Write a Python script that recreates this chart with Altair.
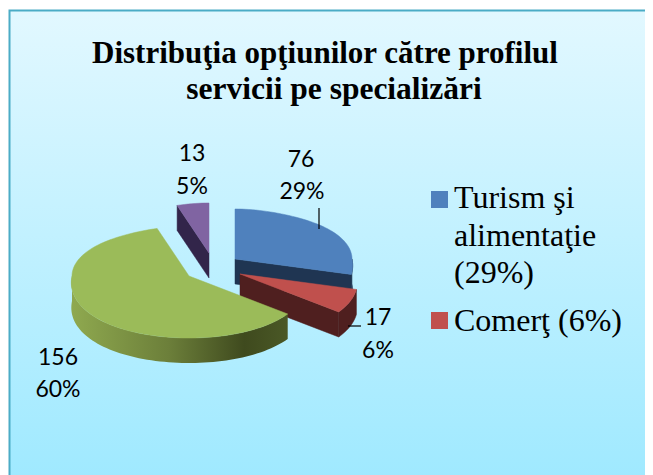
import math
import numpy as np
import altair as alt

# ---- data
series_names = ["Turism şi alimentaţie", "Comerţ", "Servicii", "Alte"]
series_values = [76, 17, 156, 13]
value_pct = ["29%", "6%", "60%", "5%"]
title_lines = ["Distribuţia opţiunilor către profilul", "servicii pe specializări"]
legend_lines = ["Turism şi", "alimentaţie", "(29%)", "Comerţ (6%)"]

W, H = 637, 467
OX, OY = 8, 8  # page margin
RX, RY_TOP, RY_BOT, DEPTH = 117, 50, 62, 25

# explosion centre (page px) of each slice and colours
centres = [(235, 259), (240, 274), (189, 276), (209, 253)]
tops = ["#4f81bd", "#c0504d", "#9bbb59", "#8064a2"]
walls = ["#1f3552", "#4f1f1f", "#465524", "#32254a"]

total = sum(series_values)
edges = np.cumsum([0] + series_values) / total * 360.0


def pt(c, a, dz=0.0):
    # perspective: the far rim is narrower, the near rim wider
    t = math.radians(a)
    s, k = math.sin(t), math.cos(t)
    ry = RY_TOP if k > 0 else RY_BOT
    rx = RX * (1 - 0.15 * k ** 6) if k > 0 else RX * (1 + 0.11 * abs(k))
    return [c[0] - OX + rx * s, c[1] - OY - ry * k + dz]


def arc(c, a0, a1, dz=0.0):
    n = max(3, int(abs(a1 - a0) / 2) + 2)
    return [pt(c, a, dz) for a in np.linspace(a0, a1, n)]


def poly(ring, fill):
    ring = [[float(x), float(y)] for x, y in ring]
    ring.append(ring[0])
    return {"type": "Feature", "geometry": {"type": "Polygon", "coordinates": [ring]},
            "properties": {"fill": fill}}


def tip(c, dz=0.0):
    return [c[0] - OX, c[1] - OY + dz]


features = []
# purple (index 3): wall along its left cut, then top
c = centres[3]; a0, a1 = edges[3], edges[4]
features.append(poly([tip(c), pt(c, a0), pt(c, a0, DEPTH), tip(c, DEPTH)], walls[3]))
features.append(poly([tip(c)] + arc(c, a0, a1), tops[3]))
# blue
c = centres[0]; a0, a1 = edges[0], edges[1]
features.append(poly([tip(c), pt(c, a1), pt(c, a1, DEPTH), tip(c, DEPTH)], walls[0]))
features.append(poly(arc(c, 90, a1) + arc(c, a1, 90, DEPTH), walls[0]))
features.append(poly([tip(c)] + arc(c, a0, a1), tops[0]))
# red
c = centres[1]; a0, a1 = edges[1], edges[2]
features.append(poly([tip(c), pt(c, a1), pt(c, a1, DEPTH), tip(c, DEPTH)], walls[1]))
features.append(poly(arc(c, a0, a1) + arc(c, a1, a0, DEPTH), walls[1]))
features.append(poly([tip(c)] + arc(c, a0, a1), tops[1]))

# green
c = centres[2]; a0, a1 = edges[2], edges[3]
green_wall = [poly(arc(c, 270, a0) + arc(c, a0, 270, DEPTH), walls[2])]
green_top = [poly([tip(c)] + arc(c, a0, a1), tops[2])]

identity = dict(type="identity", scale=1, translate=[0, 0])
one = alt.Data(values=[{"a": 1}])


def shapes(feats):
    return alt.Chart(alt.Data(values=feats)).mark_geoshape(strokeWidth=0.5).encode(
        fill=alt.Fill("properties.fill:N", scale=None),
        stroke=alt.Stroke("properties.fill:N", scale=None),
    ).project(**identity)


background = alt.Chart(one).mark_rect(
    fill=alt.Gradient(
        gradient="linear", x1=0, x2=0, y1=0, y2=1,
        stops=[alt.GradientStop(offset=0, color="#e2f8ff"),
               alt.GradientStop(offset=1, color="#9ee9ff")],
    ),
    stroke="#4bacc6", strokeWidth=2,
).encode(x=alt.value(1.5), x2=alt.value(720), y=alt.value(2.5), y2=alt.value(480))

wall_grad = alt.Chart(alt.Data(values=green_wall)).mark_geoshape(
    strokeWidth=0,
    fill=alt.Gradient(
        gradient="linear", x1=0, x2=1, y1=0, y2=0,
        stops=[alt.GradientStop(offset=0, color="#8fa94f"),
               alt.GradientStop(offset=0.45, color="#6c7f3a"),
               alt.GradientStop(offset=0.8, color="#3f4a1e"),
               alt.GradientStop(offset=1, color="#4a5826")],
    ),
).project(**identity)


def text(s, x, y, size, font, weight="normal", align="center"):
    return alt.Chart(one).mark_text(
        text=s, font=font, fontSize=size, fontWeight=weight, align=align,
        baseline="middle", color="#000000",
    ).encode(x=alt.value(x - OX), y=alt.value(y - OY))


def rule(x0, y0, x1, y1):
    return alt.Chart(one).mark_rule(color="#000000", strokeWidth=1.2).encode(
        x=alt.value(x0 - OX), x2=alt.value(x1 - OX),
        y=alt.value(y0 - OY), y2=alt.value(y1 - OY))


def swatch(x0, y0, x1, y1, col):
    return alt.Chart(one).mark_rect(fill=col).encode(
        x=alt.value(x0 - OX), x2=alt.value(x1 - OX),
        y=alt.value(y0 - OY), y2=alt.value(y1 - OY))


SERIF = "Liberation Serif"
SANS = "Lato"
layers = [background, shapes(features), wall_grad, shapes(green_top)]
layers += [rule(319, 208, 319, 229), rule(348, 326, 361, 326)]
layers += [
    text(title_lines[0], 325, 54, 31, SERIF, "bold"),
    text(title_lines[1], 334, 90, 31.5, SERIF, "bold"),
]
lab_pos = {0: (301, 160, 302, 192), 1: (378, 318, 378, 351), 2: (58, 358, 58, 390), 3: (192, 154, 192, 187)}
for i, (x0, y0, x1, y1) in lab_pos.items():
    layers += [text(str(series_values[i]), x0, y0, 23, SANS), text(value_pct[i], x1, y1, 23, SANS)]
layers += [swatch(431, 191, 448, 208, tops[0]), swatch(431, 312, 448, 329, tops[1])]
for s, y in zip(legend_lines, [198, 236, 273, 321]):
    layers.append(text(s, 454, y, 32, SERIF, align="left"))

chart = alt.layer(*layers).properties(
    width=W, height=H, padding=0,
    autosize=alt.AutoSizeParams(type="none"),
).configure_view(stroke=None)

chart.save("out.html", embed_options={"renderer": "svg", "actions": False})
